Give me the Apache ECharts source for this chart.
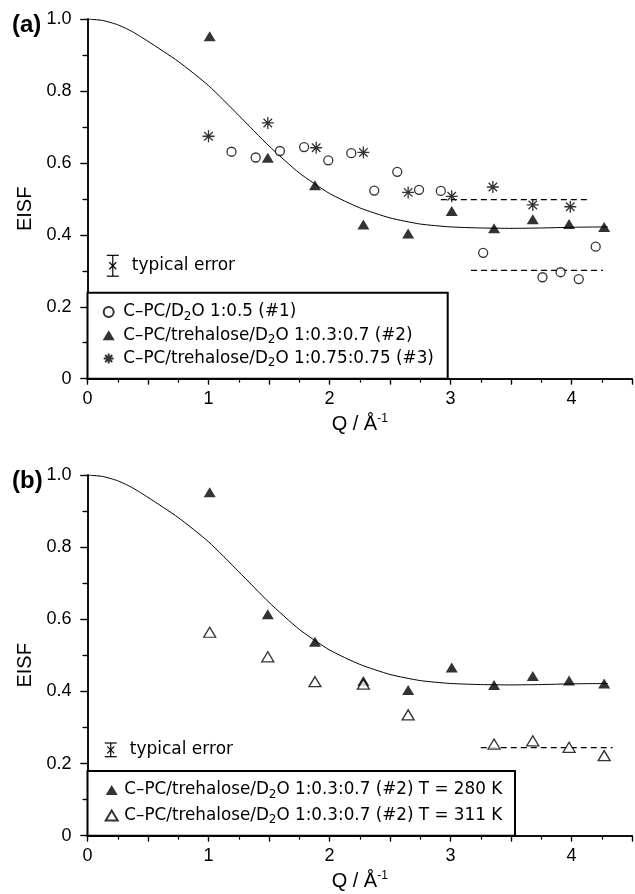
<!DOCTYPE html>
<html>
<head>
<meta charset="utf-8">
<script src="https://cdn.jsdelivr.net/npm/echarts@6/dist/echarts.min.js"></script>
<style>
html, body { margin: 0; padding: 0; background: #fff; }
#container { width: 635px; height: 894px; }
</style>
</head>
<body>
<div id="container"></div>
<script>
// fitted EISF curve (same curve drawn in both panels)
var fitQ = [0, 0.125, 0.25, 0.375, 0.5, 0.75, 1.0, 1.25, 1.5, 1.75, 2.0, 2.25, 2.5, 2.75, 3.0, 3.25, 3.5, 3.75, 4.0, 4.3];
var fitE = [1.0, 0.996, 0.984, 0.964, 0.938, 0.882, 0.815, 0.732, 0.647, 0.572, 0.515, 0.475, 0.447, 0.430, 0.422, 0.419, 0.418, 0.419, 0.421, 0.422];

// panel (a)
var q1 = [1.19, 1.39, 1.59, 1.79, 1.99, 2.18, 2.37, 2.56, 2.74, 2.92, 3.27, 3.76, 3.91, 4.06, 4.20];
var e1 = [0.631, 0.615, 0.633, 0.644, 0.607, 0.627, 0.523, 0.575, 0.525, 0.522, 0.350, 0.282, 0.296, 0.277, 0.367];
var q2 = [1.01, 1.49, 1.88, 2.28, 2.65, 3.01, 3.36, 3.68, 3.98, 4.27];
var e2 = [0.952, 0.614, 0.538, 0.429, 0.404, 0.466, 0.418, 0.443, 0.430, 0.422];
var q3 = [1.00, 1.49, 1.89, 2.28, 2.65, 3.01, 3.35, 3.68, 3.99];
var e3 = [0.674, 0.711, 0.642, 0.629, 0.518, 0.507, 0.533, 0.483, 0.478];
var dashA1Q = [2.92, 4.13], dashA1E = [0.498, 0.498];
var dashA2Q = [3.17, 4.26], dashA2E = [0.301, 0.301];
var errA = [0.209, 0.314, 0.029];

// panel (b)
var q4 = [1.01, 1.49, 1.88, 2.28, 2.65, 3.36, 3.68, 3.98, 4.27];
var e4 = [0.564, 0.496, 0.427, 0.420, 0.335, 0.254, 0.263, 0.245, 0.222];
var dashBQ = [3.25, 4.34], dashBE = [0.244, 0.244];
var errB = [0.192, 0.238, 0.019];

var namesA = ['C–PC/D2O 1:0.5 (#1)', 'C–PC/trehalose/D2O 1:0.3:0.7 (#2)', 'C–PC/trehalose/D2O 1:0.75:0.75 (#3)'];
var namesB = ['C–PC/trehalose/D2O 1:0.3:0.7 (#2) T = 280 K', 'C–PC/trehalose/D2O 1:0.3:0.7 (#2) T = 311 K'];

var xTicks = [0, 1, 2, 3, 4];

var black = '#000';
var axisFont = 'Liberation Sans';
var legFont = 'DejaVu Sans';
var star = 'path://M5,0L5,10M0,5L10,5M1.46,1.46L8.54,8.54M1.46,8.54L8.54,1.46';

function pts(q, e) {
  return q.map(function (v, i) { return [v, e[i]]; });
}

function xAxes(g) {
  return [{
    type: 'value', gridIndex: g, position: 'bottom', min: 0, max: 4.5, interval: 0.5,
    name: '{a|Q / Å}{b|-1}', nameLocation: 'middle', nameGap: 34,
    nameTextStyle: {
      color: black, fontFamily: axisFont, fontSize: 20,
      rich: {
        a: { fontFamily: axisFont, fontSize: 20, lineHeight: 24, color: black },
        b: { fontFamily: axisFont, fontSize: 12, lineHeight: 12, verticalAlign: 'top', color: black }
      }
    },
    axisLine: { lineStyle: { color: black, width: 1.5 } },
    axisTick: { length: 5, lineStyle: { color: black, width: 1.2 } },
    axisLabel: {
      color: black, fontFamily: axisFont, fontSize: 18, margin: 11,
      formatter: function (v) { return xTicks.indexOf(v) >= 0 ? String(v) : ''; }
    },
    splitLine: { show: false }
  }, {
    type: 'value', gridIndex: g, position: 'top', min: 0, max: 4.5, interval: 0.5,
    axisLine: { lineStyle: { color: black, width: 1.5 } },
    axisTick: { inside: true, length: 6, lineStyle: { color: black, width: 1.2 } },
    minorTick: { show: true, splitNumber: 2, length: 4, lineStyle: { color: black, width: 1.2 } },
    axisLabel: { show: false },
    splitLine: { show: false }
  }];
}

function yAxes(g) {
  return [{
    type: 'value', gridIndex: g, position: 'left', min: 0, max: 1, interval: 0.2,
    name: 'EISF', nameLocation: 'middle', nameGap: 52,
    nameTextStyle: { color: black, fontFamily: axisFont, fontSize: 20, padding: [0, 20, 0, 0] },
    axisLine: { lineStyle: { color: black, width: 1.5 } },
    axisTick: { length: 7, lineStyle: { color: black, width: 1.2 } },
    minorTick: { show: true, splitNumber: 2, length: 5, lineStyle: { color: black, width: 1.2 } },
    axisLabel: {
      color: black, fontFamily: axisFont, fontSize: 18, margin: 16,
      formatter: function (v) { return v === 0 ? '0' : v.toFixed(1); }
    },
    splitLine: { show: false }
  }, {
    type: 'value', gridIndex: g, position: 'right', min: 0, max: 1, interval: 0.2,
    axisLine: { lineStyle: { color: black, width: 1.5 } },
    axisTick: { inside: true, length: 7, lineStyle: { color: black, width: 1.2 } },
    minorTick: { show: true, splitNumber: 2, length: 4, lineStyle: { color: black, width: 1.2 } },
    axisLabel: { show: false },
    splitLine: { show: false }
  }];
}

function errRender(params, api) {
  var c = api.coord([api.value(0), api.value(1)]);
  var t = api.coord([api.value(0), api.value(1) + api.value(2)]);
  var b = api.coord([api.value(0), api.value(1) - api.value(2)]);
  var st = { stroke: black, lineWidth: 1.2 };
  var w = 6, s = 3.5;
  return {
    type: 'group',
    children: [
      { type: 'line', shape: { x1: c[0], y1: t[1], x2: c[0], y2: b[1] }, style: st },
      { type: 'line', shape: { x1: c[0] - w, y1: t[1], x2: c[0] + w, y2: t[1] }, style: st },
      { type: 'line', shape: { x1: c[0] - w, y1: b[1], x2: c[0] + w, y2: b[1] }, style: st },
      { type: 'line', shape: { x1: c[0] - s, y1: c[1] - s, x2: c[0] + s, y2: c[1] + s }, style: st },
      { type: 'line', shape: { x1: c[0] - s, y1: c[1] + s, x2: c[0] + s, y2: c[1] - s }, style: st },
      {
        type: 'text', x: c[0] + 19, y: c[1],
        style: { text: 'typical error', fill: black, font: '17px "DejaVu Sans"', align: 'left', verticalAlign: 'middle' }
      }
    ]
  };
}

function legendOpt(names, icons, left, top, lh, padL) {
  return {
    orient: 'vertical', left: left, top: top, padding: 0, itemGap: 0,
    itemWidth: 12, itemHeight: 10, selectedMode: false,
    formatter: function (n) { return n.replace('D2O', 'D{s|2}O'); },
    textStyle: {
      color: black, fontFamily: legFont, fontSize: 16.8, lineHeight: lh, padding: [0, 0, 0, padL],
      rich: { s: { color: black, fontFamily: legFont, fontSize: 12, lineHeight: 12, padding: [9, 0, 0, 0] } }
    },
    data: names.map(function (n, i) { return { name: n, icon: icons[i] }; })
  };
}

var lineFit = { color: black, width: 1 };
var dash = { color: black, width: 1.2, type: [6, 4] };
var openItem = { color: '#fff', borderColor: black, borderWidth: 1.3 };
var fillItem = { color: black };
var starItem = { color: black, borderColor: black, borderWidth: 1.3 };

var option = {
  animation: false,
  backgroundColor: '#fff',
  grid: [
    { left: 87.5, top: 19, width: 550, height: 359.7 },
    { left: 87.5, top: 475, width: 550, height: 360.7 }
  ],
  xAxis: xAxes(0).concat(xAxes(1)),
  yAxis: yAxes(0).concat(yAxes(1)),
  legend: [
    legendOpt(namesA, ['circle', 'triangle', star], 102.7, 300.3, 23.3, 3.6),
    legendOpt(namesB, ['triangle', 'triangle'], 104.7, 777.3, 25.5, 1.6)
  ],
  graphic: [
    { type: 'rect', z: 1, shape: { x: 87.5, y: 292.7, width: 360.2, height: 86 },
      style: { fill: '#fff', stroke: black, lineWidth: 2 } },
    { type: 'rect', z: 1, shape: { x: 87.5, y: 771, width: 427.5, height: 64.7 },
      style: { fill: '#fff', stroke: black, lineWidth: 2 } },
    { type: 'text', left: 12, top: 13, style: { text: '(a)', fill: black, font: 'bold 24px "Liberation Sans"' } },
    { type: 'text', left: 12, top: 469, style: { text: '(b)', fill: black, font: 'bold 24px "Liberation Sans"' } }
  ],
  series: [
    { type: 'line', xAxisIndex: 0, yAxisIndex: 0, data: pts(fitQ, fitE), smooth: 0.2, symbol: 'none', lineStyle: lineFit, silent: true },
    { type: 'line', xAxisIndex: 0, yAxisIndex: 0, data: pts(dashA1Q, dashA1E), symbol: 'none', lineStyle: dash, silent: true },
    { type: 'line', xAxisIndex: 0, yAxisIndex: 0, data: pts(dashA2Q, dashA2E), symbol: 'none', lineStyle: dash, silent: true },
    { name: namesA[0], type: 'scatter', xAxisIndex: 0, yAxisIndex: 0, data: pts(q1, e1), symbol: 'circle', symbolSize: 9, itemStyle: openItem, z: 3 },
    { name: namesA[1], type: 'scatter', xAxisIndex: 0, yAxisIndex: 0, data: pts(q2, e2), symbol: 'triangle', symbolSize: [12, 10], itemStyle: fillItem, z: 3 },
    { name: namesA[2], type: 'scatter', xAxisIndex: 0, yAxisIndex: 0, data: pts(q3, e3), symbol: star, symbolSize: 12, itemStyle: starItem, z: 3 },
    { type: 'custom', xAxisIndex: 0, yAxisIndex: 0, data: [errA], renderItem: errRender, silent: true },

    { type: 'line', xAxisIndex: 2, yAxisIndex: 2, data: pts(fitQ, fitE), smooth: 0.2, symbol: 'none', lineStyle: lineFit, silent: true },
    { type: 'line', xAxisIndex: 2, yAxisIndex: 2, data: pts(dashBQ, dashBE), symbol: 'none', lineStyle: dash, silent: true },
    { name: namesB[0], type: 'scatter', xAxisIndex: 2, yAxisIndex: 2, data: pts(q2, e2), symbol: 'triangle', symbolSize: [12, 10], itemStyle: fillItem, z: 3 },
    { name: namesB[1], type: 'scatter', xAxisIndex: 2, yAxisIndex: 2, data: pts(q4, e4), symbol: 'triangle', symbolSize: [12, 10], itemStyle: openItem, z: 3 },
    { type: 'custom', xAxisIndex: 2, yAxisIndex: 2, data: [errB], renderItem: errRender, silent: true }
  ]
};

var myChart = echarts.init(document.getElementById('container'));
myChart.setOption(option);
</script>
</body>
</html>
